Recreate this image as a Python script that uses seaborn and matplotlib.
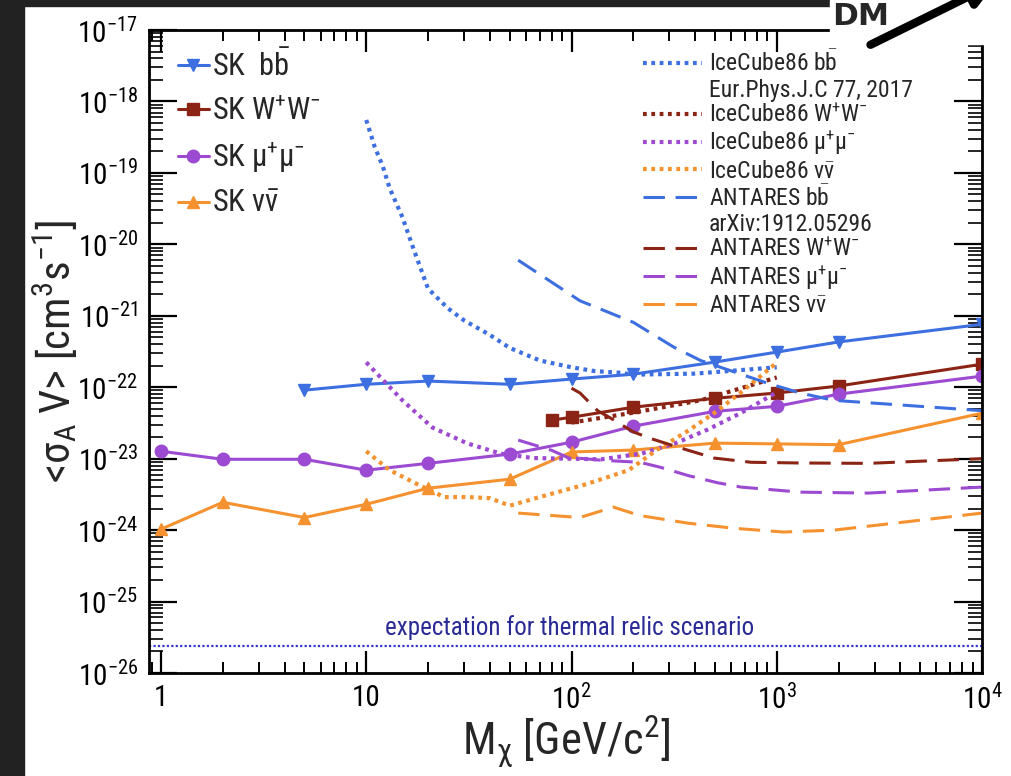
import numpy as np
import pandas as pd
import matplotlib
matplotlib.use("Agg")
import matplotlib.pyplot as plt
from matplotlib import font_manager
from matplotlib.lines import Line2D
from matplotlib.patches import Rectangle, FancyArrowPatch
from matplotlib.ticker import LogLocator, NullFormatter
import seaborn as sns

# --- Super-K limits (solid, with markers)
sk_bb_m = [5, 10, 20, 50, 100, 200, 500, 1000, 2000, 10000]
sk_bb_s = [9.1e-23, 1.1e-22, 1.22e-22, 1.1e-22, 1.3e-22, 1.52e-22, 2.25e-22, 3.1e-22, 4.3e-22, 7.6e-22]

sk_ww_m = [80, 100, 200, 500, 1000, 2000, 10000]
sk_ww_s = [3.46e-23, 3.8e-23, 5.25e-23, 7.0e-23, 8.3e-23, 1.04e-22, 2.1e-22]

sk_mm_m = [1, 2, 5, 10, 20, 50, 100, 200, 500, 1000, 2000, 10000]
sk_mm_s = [1.27e-23, 9.8e-24, 9.8e-24, 6.9e-24, 8.6e-24, 1.16e-23, 1.7e-23, 2.85e-23,
           4.6e-23, 5.4e-23, 8.0e-23, 1.43e-22]

sk_nn_m = [1, 2, 5, 10, 20, 50, 100, 200, 500, 1000, 2000, 10000]
sk_nn_s = [1.03e-24, 2.45e-24, 1.5e-24, 2.3e-24, 3.86e-24, 5.16e-24, 1.24e-23, 1.32e-23,
           1.65e-23, 1.61e-23, 1.57e-23, 4.33e-23]

# --- IceCube86 (dotted)
ic_bb_m = [10, 11, 12, 13, 15, 17, 20, 25, 30, 40, 50, 70, 100, 130, 170, 200, 400, 1000]
ic_bb_s = [5.5e-19, 2.3e-19, 1.27e-19, 6.1e-20, 2.4e-20, 8.6e-21, 2.4e-21, 1.27e-21, 8.6e-22,
           5.4e-22, 3.55e-22, 2.37e-22, 1.9e-22, 1.68e-22, 1.6e-22, 1.5e-22, 1.55e-22, 1.9e-22]

ic_ww_m = [100, 200, 425, 670, 1000]
ic_ww_s = [3.2e-23, 4.4e-23, 6.55e-23, 9.7e-23, 1.37e-22]

ic_mm_m = [10, 15, 21, 31, 45, 65, 140, 220, 320, 460, 670, 1000]
ic_mm_s = [2.23e-22, 6.55e-23, 2.73e-23, 1.64e-23, 1.18e-23, 1.02e-23, 9.8e-24, 1.18e-23,
           1.64e-23, 2.55e-23, 4.37e-23, 8.5e-23]

ic_nn_m = [10, 13, 18, 24, 31, 40, 50, 70, 115, 190, 260, 370, 515, 690, 1000]
ic_nn_s = [1.27e-23, 6.9e-24, 4.3e-24, 2.9e-24, 2.9e-24, 2.8e-24, 2.2e-24, 2.9e-24, 4.3e-24,
           6.9e-24, 1.32e-23, 2.46e-23, 4.7e-23, 9.1e-23, 2.2e-22]

# --- ANTARES (dashed)
an_bb_m = [55, 110, 200, 315, 425, 620, 900, 1300, 1900, 10000]
an_bb_s = [6.0e-21, 1.62e-21, 8.1e-22, 3.64e-22, 2.37e-22, 1.64e-22, 1.14e-22, 8.3e-23, 6.55e-23, 4.7e-23]

an_ww_m = [100, 110, 134, 155, 200, 245, 340, 495, 750, 1300, 2800, 10000]
an_ww_s = [9.7e-23, 8.3e-23, 4.7e-23, 3.7e-23, 2.37e-23, 1.9e-23, 1.41e-23, 1.02e-23,
           8.9e-24, 8.7e-24, 8.6e-24, 1.0e-23]

an_mm_m = [55, 80, 95, 140, 215, 270, 370, 515, 670, 1300, 2800, 10000]
an_mm_s = [1.82e-23, 1.31e-23, 1.05e-23, 9.5e-24, 8.9e-24, 7.6e-24, 5.8e-24, 4.6e-24,
           4.0e-24, 3.4e-24, 3.3e-24, 4.0e-24]

an_nn_m = [55, 110, 160, 215, 370, 620, 1080, 1900, 10000]
an_nn_s = [1.73e-24, 1.5e-24, 2.1e-24, 1.6e-24, 1.25e-24, 1.06e-24, 9.4e-25, 1.0e-24, 1.73e-24]

thermal_relic = 2.4e-26

x_ticks = [1, 10, 100, 1000, 10000]
x_ticklabels = ["1", "10", "$10^{2}$", "$10^{3}$", "$10^{4}$"]

blue = "#3d6fe0"
darkred = "#8c2416"
purple = "#9b4ad1"
orange = "#f5922f"

sns.set_style("ticks")

# the original uses a narrow Helvetica; look for any condensed sans face
prefer = ["Liberation Sans Narrow", "Roboto Condensed", "Noto Sans", "Open Sans", "Roboto", "Arimo"]
cond = None
for name in prefer:
    for f in font_manager.fontManager.ttflist:
        if f.name != name or f.style != "normal" or f.weight not in (400, "normal", "regular"):
            continue
        if "Narrow" in f.name or "Condensed" in f.name or f.stretch in ("condensed", "semi-condensed", 500, 600, 700, 750):
            if f.stretch not in ("extra-condensed", "ultra-condensed"):
                cond = f
                break
    if cond:
        break

if cond is not None:
    fam = cond.name
    plt.rcParams["font.stretch"] = cond.stretch
    k = 1.0
else:
    fam = "Liberation Sans"
    k = 0.84
plt.rcParams["font.family"] = [fam, "DejaVu Sans"]
plt.rcParams["mathtext.fontset"] = "custom"
plt.rcParams["mathtext.rm"] = fam
plt.rcParams["mathtext.it"] = fam
plt.rcParams["mathtext.bf"] = fam + ":bold"
plt.rcParams["mathtext.default"] = "regular"
plt.rcParams["axes.unicode_minus"] = False

W, H = 1012, 776
fig = plt.figure(figsize=(W / 100, H / 100), dpi=100)
ax = fig.add_axes([149 / W, 1 - 673 / H, 833 / W, 643 / H])
ax.set(xscale="log", yscale="log")

dot = (0, (0.9, 1.1))
dash = (0, (7, 3.5))

series = [
    (sk_bb_m, sk_bb_s, blue, "-", "v", r"SK  $b\bar{b}$"),
    (sk_ww_m, sk_ww_s, darkred, "-", "s", r"SK $W^{+}W^{-}$"),
    (sk_mm_m, sk_mm_s, purple, "-", "o", r"SK $\mu^{+}\mu^{-}$"),
    (sk_nn_m, sk_nn_s, orange, "-", "^", r"SK $\nu\bar{\nu}$"),
    (ic_bb_m, ic_bb_s, blue, dot, None, r"IceCube86 $b\bar{b}$"),
    (ic_ww_m, ic_ww_s, darkred, dot, None, r"IceCube86 $W^{+}W^{-}$"),
    (ic_mm_m, ic_mm_s, purple, dot, None, r"IceCube86 $\mu^{+}\mu^{-}$"),
    (ic_nn_m, ic_nn_s, orange, dot, None, r"IceCube86 $\nu\bar{\nu}$"),
    (an_bb_m, an_bb_s, blue, dash, None, r"ANTARES $b\bar{b}$"),
    (an_ww_m, an_ww_s, darkred, dash, None, r"ANTARES $W^{+}W^{-}$"),
    (an_mm_m, an_mm_s, purple, dash, None, r"ANTARES $\mu^{+}\mu^{-}$"),
    (an_nn_m, an_nn_s, orange, dash, None, r"ANTARES $\nu\bar{\nu}$"),
]

handles = {}
for m, s, col, ls, mk, lab in series:
    df = pd.DataFrame({"M": m, "sigma": s})
    kw = dict(color=col, linestyle=ls, linewidth=2.2 if mk or ls == dash else 3.0)
    if mk:
        kw.update(marker=mk, markersize=9 if mk != "s" else 8.5, markeredgecolor=col,
                  markerfacecolor=col, markeredgewidth=1)
    sns.lineplot(data=df, x="M", y="sigma", ax=ax, label=lab, legend=False,
                 errorbar=None, **kw)
    handles[lab] = ax.lines[-1]

ax.axhline(thermal_relic, color="#3535d0", linestyle=(0, (1, 1)), linewidth=1.6)
ax.text(0.505, 0.052, "expectation for thermal relic scenario", transform=ax.transAxes,
        ha="center", va="bottom", color="#2a2a95", fontsize=18 * k)

ax.set_xlim(0.874, 1e4)
ax.set_ylim(1e-26, 1e-17)
ax.set_xticks(x_ticks)
ax.set_xticklabels(x_ticklabels)
ax.xaxis.set_minor_locator(LogLocator(base=10, subs=np.arange(2, 10), numticks=100))
ax.xaxis.set_minor_formatter(NullFormatter())
ax.yaxis.set_major_locator(LogLocator(base=10, numticks=20))
ax.yaxis.set_minor_locator(LogLocator(base=10, subs=np.arange(2, 10), numticks=100))
ax.yaxis.set_minor_formatter(NullFormatter())
ax.tick_params(which="both", direction="in", top=True, right=True, colors="black")
ax.tick_params(axis="x", which="major", length=16, width=1.6, labelsize=21 * k, pad=8)
ax.tick_params(axis="x", which="minor", length=8, width=1.4)
ax.tick_params(axis="y", which="major", length=20, width=1.6, labelsize=21 * k, pad=8)
ax.tick_params(axis="y", which="minor", length=10, width=1.2)
for sp in ax.spines.values():
    sp.set_linewidth(2)
    sp.set_color("black")

ax.set_xlabel(r"$M_{\chi}$ [GeV/$c^{2}$]", fontsize=32 * k)
ax.set_ylabel(r"<$\sigma_{A}$ V> [$cm^{3}s^{-1}$]", fontsize=31 * k)
ax.xaxis.set_label_coords(0.5, -0.064)
ax.yaxis.set_label_coords(-0.083, 0.5)

# left legend: Super-K
sk_labels = [s[5] for s in series[:4]]
leg1 = ax.legend([handles[l] for l in sk_labels], sk_labels, loc="upper left",
                 bbox_to_anchor=(0.035, 0.970), frameon=False, fontsize=22 * k,
                 handlelength=1.0, handletextpad=0.1, labelspacing=0.48,
                 borderpad=0, borderaxespad=0, numpoints=1)
ax.add_artist(leg1)

# right legend: IceCube86 / ANTARES
blank = Line2D([], [], linestyle="none")
r_labels = [s[5] for s in series[4:]]
r_handles = [handles[l] for l in r_labels]
r_handles.insert(1, blank)
r_labels.insert(1, "Eur.Phys.J.C 77, 2017")
r_handles.insert(6, blank)
r_labels.insert(6, "arXiv:1912.05296")
ax.legend(r_handles, r_labels, loc="upper left", bbox_to_anchor=(0.593, 0.968),
          frameon=False, fontsize=17 * k, handlelength=2.5, handletextpad=0.3,
          labelspacing=0.1, borderpad=0, borderaxespad=0)

# screenshot framing: dark border and the "DM" corner
fig.add_artist(Rectangle((0, 0), 24 / W, 1, transform=fig.transFigure,
                         color="#222222", zorder=10))
fig.add_artist(Rectangle((0, 1 - 6 / H), 830 / W, 6 / H, transform=fig.transFigure,
                         color="#222222", zorder=10))
fig.add_artist(Rectangle((830 / W, 1 - 44 / H), 1 - 830 / W, 44 / H,
                         transform=fig.transFigure, color="white", zorder=10))
fig.text(832 / W, 1 - 25 / H, "DM", fontsize=22.5, fontweight="bold",
         family="DejaVu Sans", stretch="normal", zorder=11)
fig.add_artist(FancyArrowPatch((868 / W, 1 - 46 / H), (998 / W, 1 + 18 / H),
                               transform=fig.transFigure, arrowstyle="-|>",
                               mutation_scale=35, linewidth=6, color="black",
                               zorder=11))

fig.savefig("out.png", dpi=100)
